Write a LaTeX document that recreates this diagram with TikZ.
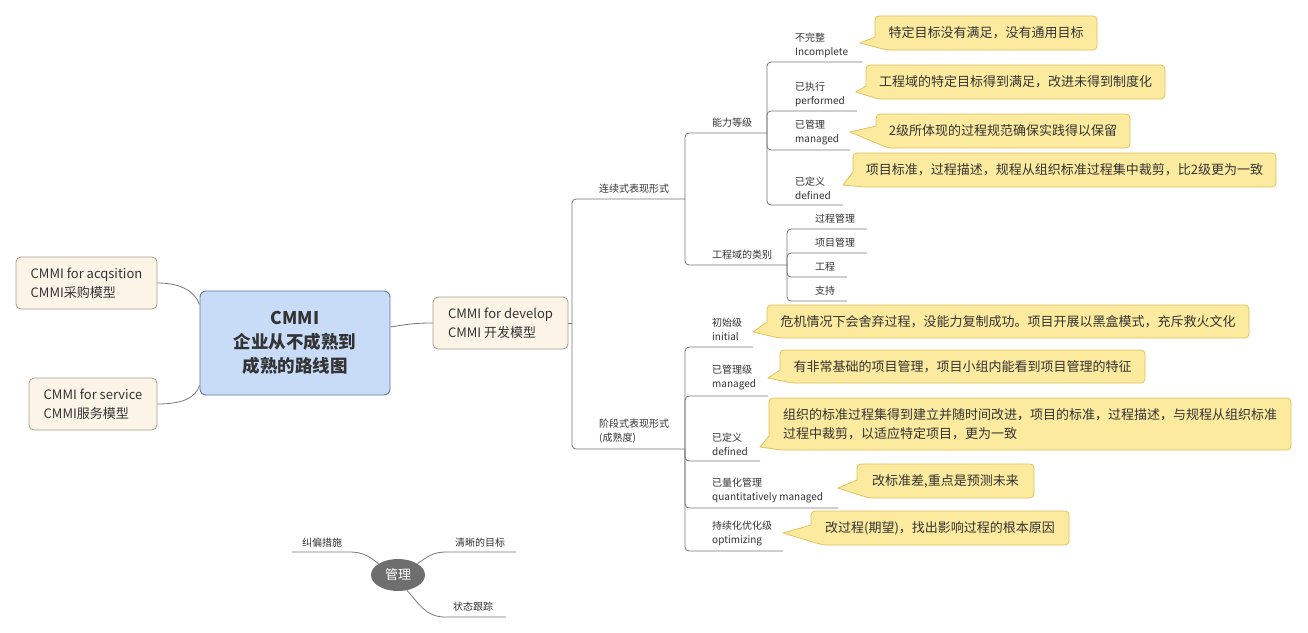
\documentclass[tikz,border=0pt]{standalone}
\usepackage{fontspec}
\setmainfont{Noto Sans CJK SC}
\usetikzlibrary{calc,shapes.geometric}
\definecolor{txt}{HTML}{333333}
\definecolor{linec}{HTML}{777777}
\definecolor{cfill}{HTML}{FCEA9E}
\definecolor{cdraw}{HTML}{E2C25E}
\definecolor{cblue}{HTML}{C8DCF8}
\definecolor{cbluedraw}{HTML}{5A78A8}
\definecolor{beige}{HTML}{FDF4E8}
\definecolor{bdraw}{HTML}{A89C90}
\definecolor{mgray}{HTML}{6E6E6E}
\newcommand{\mycallout}[9]{%
  \draw[callout] ({#2+20},#3) [rounded corners=4]-- (#4,#3) -- (#4,#5) -- ({#2+12},#5) [sharp corners]-- (#6,#7) -- (#2,#9) [rounded corners=4]-- (#2,#3) -- cycle;
  \node[calltext] (#1) at ({(#2+#4)/2},{(#3+#5)/2}) {#8};}
\begin{document}
\begin{tikzpicture}[x=1pt,y=-1pt,
  tree/.style={draw=linec, line width=0.8pt, rounded corners=4},
  conn/.style={draw=linec, line width=0.8pt},
  lbl/.style={font=\fontsize{10}{14}\selectfont, text=txt, inner sep=0, anchor=west, align=left},
  callout/.style={fill=cfill, draw=cdraw, line width=0.8pt},
  calltext/.style={font=\fontsize{13}{19}\selectfont, text=txt, inner sep=0, align=left},
  box/.style={rounded corners=5, fill=beige, draw=bdraw, line width=0.8pt, font=\fontsize{13}{19}\selectfont, text=txt, align=left, inner sep=0}]
\fill[white] (0,0) rectangle (1308,632);
\useasboundingbox (0,0) rectangle (1308,632);

% main nodes
\node[rounded corners=6, fill=cblue, draw=cbluedraw, line width=0.9pt, minimum width=190, minimum height=104, inner sep=0, text=txt, align=center, font=\fontsize{17.5}{24}\selectfont\bfseries] (cm) at (295,343) {CMMI\\企业从不成熟到\\成熟的路线图};
\node[box, minimum width=141, minimum height=52] (acq) at (86.5,283) {CMMI for acqsition\\CMMI采购模型};
\node[box, minimum width=128, minimum height=52] (svc) at (93,404) {CMMI for service\\CMMI服务模型};
\node[box, minimum width=135, minimum height=52] (dev) at (500.5,323) {CMMI for develop\\CMMI 开发模型};

\draw[conn] (acq.east) .. controls (182,283) and (195,292) .. ($(cm.north west)+(0,14)$);
\draw[conn] (svc.east) .. controls (184,404) and (196,397) .. ($(cm.south west)+(0,-10)$);
\draw[conn] ($(cm.east)+(0,-16)$) .. controls (408,324) and (416,323) .. (dev.west);

% tree
\coordinate (dv) at (572,323);
\draw[tree] (dev.east) -- (dv);
\coordinate (lx) at (685,199);
\coordinate (jd) at (685,449);
\draw[tree] (dv) |- (lx);
\draw[tree] (dv) |- (jd);
\node[lbl] (lxl) at (599,189) {连续式表现形式};
\node[lbl] (jdl) at (599,431) {阶段式表现形式\\(成熟度)};

\coordinate (nl) at (767,133);
\coordinate (gc) at (787,265);
\draw[tree] (lx) |- (nl);
\draw[tree] (lx) |- (gc);
\node[lbl] (nll) at (712,123) {能力等级};
\node[lbl] (gcl) at (712,255) {工程域的类别};

\coordinate (e1) at (862,62);
\coordinate (e2) at (857,111);
\coordinate (e3) at (850,150);
\coordinate (e4) at (843,205);
\foreach \e in {e1,e2,e3,e4} \draw[tree] (nl) |- (\e);
\node[lbl] (l1) at (795,45) {不完整\\Incomplete};
\node[lbl] (l2) at (795,94.5) {已执行\\performed};
\node[lbl] (l3) at (795,133) {已管理\\managed};
\node[lbl] (l4) at (795,188) {已定义\\defined};

\coordinate (g1) at (867,229);
\coordinate (g2) at (867,253);
\coordinate (g3) at (847,277);
\coordinate (g4) at (847,301);
\foreach \e in {g1,g2,g3,g4} \draw[tree] (gc) |- (\e);
\node[lbl] (gl1) at (815,219) {过程管理};
\node[lbl] (gl2) at (815,243) {项目管理};
\node[lbl] (gl3) at (815,267) {工程};
\node[lbl] (gl4) at (815,291) {支持};

\coordinate (p1) at (753,347);
\coordinate (p2) at (768,396);
\coordinate (p3) at (760,461);
\coordinate (p4) at (838,508);
\coordinate (p5) at (783,551);
\foreach \e in {p1,p2,p3,p4,p5} \draw[tree] (jd) |- (\e);
\node[lbl] (pl1) at (712,329) {初始级\\initial};
\node[lbl] (pl2) at (712,378) {已管理级\\managed};
\node[lbl] (pl3) at (712,444) {已定义\\defined};
\node[lbl] (pl4) at (712,491) {已量化管理\\quantitatively managed};
\node[lbl] (pl5) at (712,533.5) {持续化优化级\\optimizing};

% callouts
\mycallout{c1}{875}{16}{1097}{50}{860}{43}{特定目标没有满足，没有通用目标}{37}
\mycallout{c2}{866}{65}{1165}{99}{856}{92}{工程域的特定目标得到满足，改进未得到制度化}{86}
\mycallout{c3}{876}{114}{1130}{148}{850}{132}{2级所体现的过程规范确保实践得以保留}{126}
\mycallout{c4}{853}{153}{1276}{187}{843}{185}{项目标准，过程描述，规程从组织标准过程集中裁剪，比2级更为一致}{172}
\mycallout{c5}{767}{305}{1249}{338}{753}{332}{危机情况下会舍弃过程，没能力复制成功。项目开展以黑盒模式，充斥救火文化}{322}
\mycallout{c6}{780}{350}{1145}{383}{768}{378}{有非常基础的项目管理，项目小组内能看到项目管理的特征}{370}
\mycallout{c7}{769}{398}{1291}{450}{760}{447}{组织的标准过程集得到建立并随时间改进，项目的标准，过程描述，与规程从组织标准\\过程中裁剪，以适应特定项目，更为一致}{436}
\mycallout{c8}{857}{464}{1034}{498}{838}{488}{改标准差,重点是预测未来}{480}
\mycallout{c9}{811}{511}{1069}{545}{783}{533}{改过程(期望)，找出影响过程的根本原因}{525}

% management
\node[ellipse, fill=mgray, minimum width=54, minimum height=32, inner sep=0, text=white, font=\fontsize{13}{13}\selectfont] (mg) at (398,575) {管理};
\coordinate (jp) at (292,552);
\coordinate (qx) at (516,552);
\coordinate (zt) at (506,617);
\draw[conn] (mg.150) .. controls (369,556) and (362,552) .. (350,552) -- (jp);
\draw[conn] (mg.30) .. controls (428,556) and (434,552) .. (446,552) -- (qx);
\draw[conn] (mg.-60) .. controls (418,602) and (425,617) .. (445,617) -- (zt);
\node[lbl] (jpl) at (302,543) {纠偏措施};
\node[lbl] (qxl) at (455,543) {清晰的目标};
\node[lbl] (ztl) at (453,607) {状态跟踪};
\end{tikzpicture}
\end{document}
